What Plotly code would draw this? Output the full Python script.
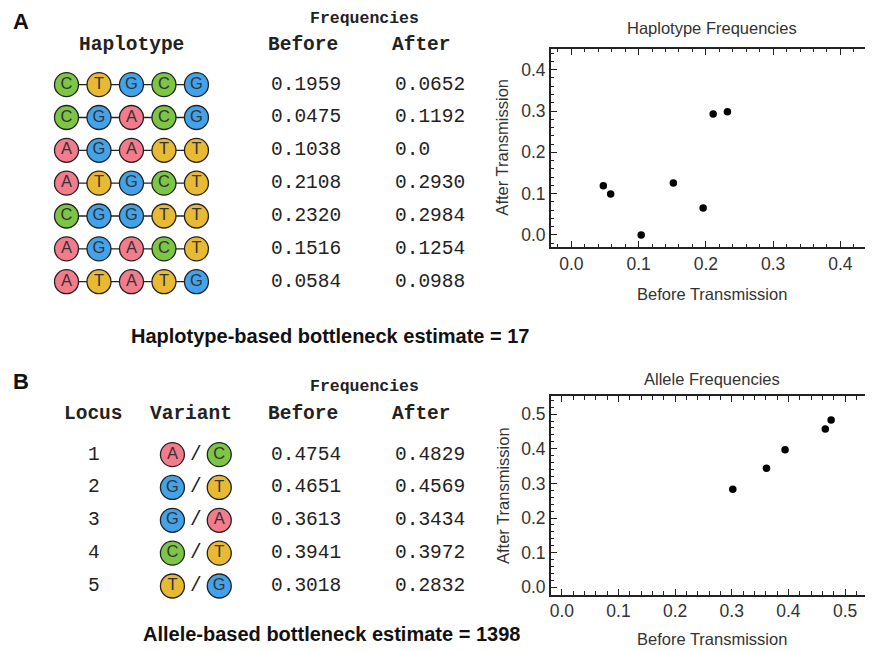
import plotly.graph_objects as go

# ---------------- data ----------------
haplotypes = ["CTGCG", "CGACG", "AGATT", "ATGCT", "CGGTT", "AGACT", "ATATG"]
hap_before = [0.1959, 0.0475, 0.1038, 0.2108, 0.2320, 0.1516, 0.0584]
hap_after = [0.0652, 0.1192, 0.0, 0.2930, 0.2984, 0.1254, 0.0988]
hap_before_txt = ["0.1959", "0.0475", "0.1038", "0.2108", "0.2320", "0.1516", "0.0584"]
hap_after_txt = ["0.0652", "0.1192", "0.0", "0.2930", "0.2984", "0.1254", "0.0988"]

loci = ["1", "2", "3", "4", "5"]
variant_a = ["A", "G", "G", "C", "T"]
variant_b = ["C", "T", "A", "T", "G"]
al_before = [0.4754, 0.4651, 0.3613, 0.3941, 0.3018]
al_after = [0.4829, 0.4569, 0.3434, 0.3972, 0.2832]
al_before_txt = ["0.4754", "0.4651", "0.3613", "0.3941", "0.3018"]
al_after_txt = ["0.4829", "0.4569", "0.3434", "0.3972", "0.2832"]

hap_estimate = 17
allele_estimate = 1398

# ---------------- style ----------------
# page is 873x651; the html body has an 8px margin, so the figure occupies page px 8..873 / 8..651
PAGE_W, PAGE_H, OFF = 873, 651, 8
W, H = PAGE_W - OFF, PAGE_H - OFF
BASE_COLORS = {"A": "#F27B8C", "C": "#7CC545", "G": "#42A3EA", "T": "#E8B933"}
MONO = "Liberation Mono, Courier New, monospace"
SANS = "Liberation Sans, Arial, sans-serif"
TXT = "#222222"
GRAY = "#333333"

# table layout (page-pixel space on overlay axis)
A_ROW0, ROW_DY = 85, 33
CIRC_X0, CIRC_DX = 65.7, 32.6
BEFORE_X, AFTER_X = 269, 393
B_ROW0 = 456.7
LOCUS_X = 93
VAR_X1, VAR_X2, SLASH_X = 172, 219, 195.7
NUM_SIZE = 19.5
HEAD_SIZE = 19.5


def xd(px):
    return (px - OFF) / W


def yd(py):
    return 1 - (py - OFF) / H


fig = go.Figure()

# ---------------- haplotype table circles ----------------
for r, hap in enumerate(haplotypes):
    xs = [CIRC_X0 + i * CIRC_DX for i in range(len(hap))]
    ys = [A_ROW0 + r * ROW_DY] * len(hap)
    fig.add_trace(go.Scatter(
        x=xs, y=ys, mode="lines+markers+text", text=list(hap),
        textposition="middle center",
        textfont=dict(family=SANS, size=16.5, color="#333333"),
        line=dict(color="#222222", width=1.3),
        marker=dict(size=24, color=[BASE_COLORS[b] for b in hap],
                    line=dict(color="#222222", width=1.3)),
        xaxis="x3", yaxis="y3", showlegend=False, hoverinfo="skip", cliponaxis=False))

# ---------------- allele table circles ----------------
for r in range(len(loci)):
    y = B_ROW0 + r * ROW_DY
    pair = [variant_a[r], variant_b[r]]
    fig.add_trace(go.Scatter(
        x=[VAR_X1, VAR_X2], y=[y, y], mode="markers+text", text=pair,
        textposition="middle center",
        textfont=dict(family=SANS, size=16.5, color="#333333"),
        marker=dict(size=24, color=[BASE_COLORS[b] for b in pair],
                    line=dict(color="#222222", width=1.3)),
        xaxis="x3", yaxis="y3", showlegend=False, hoverinfo="skip", cliponaxis=False))

# ---------------- scatter plots ----------------
fig.add_trace(go.Scatter(x=hap_before, y=hap_after, mode="markers",
                         marker=dict(size=7.5, color="black"),
                         xaxis="x", yaxis="y", showlegend=False, cliponaxis=False))
fig.add_trace(go.Scatter(x=al_before, y=al_after, mode="markers",
                         marker=dict(size=7.5, color="black"),
                         xaxis="x2", yaxis="y2", showlegend=False, cliponaxis=False))

ann = []


def t(x, y, text, size, family=MONO, bold=False, xanchor="center", color=TXT, angle=0):
    s = f"<b>{text}</b>" if bold else text
    ann.append(dict(text=s, x=x, y=y, xref="x3", yref="y3", showarrow=False,
                    xanchor=xanchor, yanchor="middle",
                    font=dict(family=family, size=size, color=color), textangle=angle))


# Panel A table
t(20, 22, "A", 22, family=SANS, bold=True, color="#111111")
t(365, 19, "Frequencies", 16.5, bold=True)
t(131, 45, "Haplotype", HEAD_SIZE, bold=True)
t(303, 45, "Before", HEAD_SIZE, bold=True)
t(422, 45, "After", HEAD_SIZE, bold=True)
for r in range(len(haplotypes)):
    y = A_ROW0 + r * ROW_DY
    t(BEFORE_X, y, hap_before_txt[r], NUM_SIZE, xanchor="left")
    t(AFTER_X, y, hap_after_txt[r], NUM_SIZE, xanchor="left")
t(330, 338, f"Haplotype-based bottleneck estimate = {hap_estimate}", 20, family=SANS, bold=True, color="#111111")

# Panel B table
t(20, 383, "B", 22, family=SANS, bold=True, color="#111111")
t(365, 388, "Frequencies", 16.5, bold=True)
t(93, 416, "Locus", HEAD_SIZE, bold=True)
t(191, 416, "Variant", HEAD_SIZE, bold=True)
t(303, 416, "Before", HEAD_SIZE, bold=True)
t(422, 416, "After", HEAD_SIZE, bold=True)
for r in range(len(loci)):
    y = B_ROW0 + r * ROW_DY
    t(LOCUS_X, y, loci[r], NUM_SIZE)
    t(SLASH_X, y, "/", NUM_SIZE)
    t(BEFORE_X, y, al_before_txt[r], NUM_SIZE, xanchor="left")
    t(AFTER_X, y, al_after_txt[r], NUM_SIZE, xanchor="left")
t(332, 637, f"Allele-based bottleneck estimate = {allele_estimate}", 20, family=SANS, bold=True, color="#111111")

# Plot titles / axis titles
LBL = 16.5
t(713, 28, "Haplotype Frequencies", LBL, family=SANS, color=GRAY)
t(713, 295, "Before Transmission", LBL, family=SANS, color=GRAY)
t(503, 148, "After Transmission", LBL, family=SANS, color=GRAY, angle=-90)
t(713, 381, "Allele Frequencies", LBL, family=SANS, color=GRAY)
t(713, 642, "Before Transmission", LBL, family=SANS, color=GRAY)
t(503, 498, "After Transmission", LBL, family=SANS, color=GRAY, angle=-90)


def frame_axis(rng, domain, anchor, dtick=0.1):
    return dict(range=rng, domain=domain, anchor=anchor,
                showline=True, linecolor="#222222", linewidth=1.5, mirror="ticks",
                ticks="inside", ticklen=6, tickwidth=1.2, tickcolor="#222222",
                dtick=dtick, tick0=0, tickformat=".1f",
                minor=dict(ticks="inside", ticklen=3.5, dtick=0.02, tick0=0,
                           tickcolor="#222222", tickwidth=1),
                showgrid=False, zeroline=False,
                tickfont=dict(family=SANS, size=17.5, color=GRAY))


xdom = [xd(551.7), xd(873)]
fig.update_layout(
    width=W, height=H, margin=dict(l=0, r=0, t=0, b=0),
    paper_bgcolor="white", plot_bgcolor="rgba(0,0,0,0)",
    xaxis=frame_axis([-0.0306, 0.4455], xdom, "y"),
    yaxis=frame_axis([-0.029, 0.4506], [yd(248), yd(49)], "x"),
    xaxis2=frame_axis([-0.0194, 0.5458], xdom, "y2"),
    yaxis2=frame_axis([-0.021, 0.551], [yd(597.3), yd(398.3)], "x2"),
    xaxis3=dict(range=[OFF, PAGE_W], domain=[0, 1], anchor="y3", visible=False, fixedrange=True),
    yaxis3=dict(range=[PAGE_H, OFF], domain=[0, 1], anchor="x3", visible=False, fixedrange=True),
    annotations=ann,
)

fig.write_html("out.html")
